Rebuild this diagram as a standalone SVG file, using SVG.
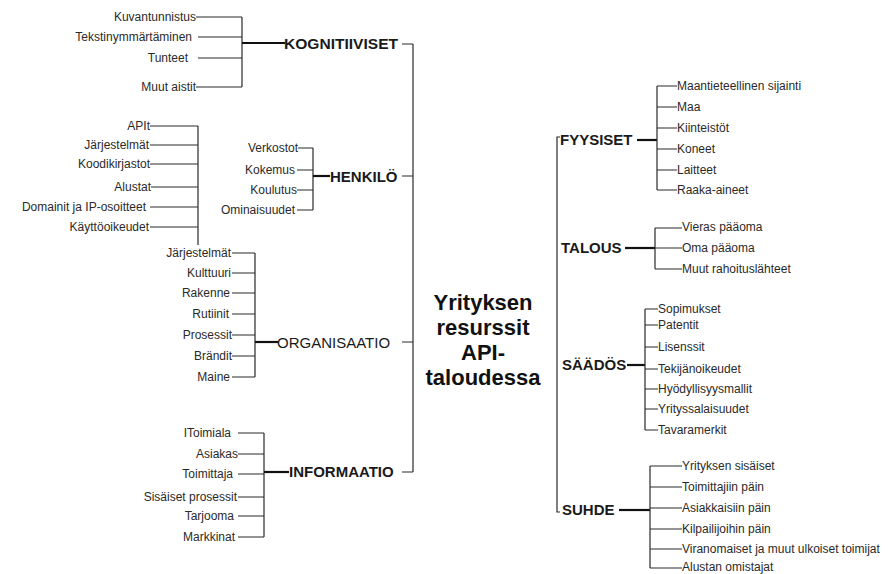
<svg xmlns="http://www.w3.org/2000/svg" width="893" height="574" viewBox="0 0 893 574">
<style>
.leaf{font-family:"Liberation Sans",Arial,sans-serif;font-size:12px;fill:#2a2a2a}
.end{text-anchor:end}
.cat{font-family:"Liberation Sans",Arial,sans-serif;font-size:15px;font-weight:bold;fill:#1a1a1a}
.catr{font-family:"Liberation Sans",Arial,sans-serif;font-size:15px;fill:#1a1a1a}
.title{font-family:"Liberation Sans",Arial,sans-serif;font-size:22px;font-weight:bold;fill:#111;text-anchor:middle}
.ln{stroke:#2a2a2a;stroke-width:1.2;fill:none}
.bl{stroke:#111;stroke-width:2.2;fill:none}
</style>
<rect width="893" height="574" fill="#fff"/>
<g id="connectors">
  <path class="ln" d="M413 44V472"/>
  <path class="ln" d="M402 44H413M402 176H413M402 342H413M402 472H413"/>
  <path class="ln" d="M196 17H242M198 37H242M198 58H242M196 87H242M242 17V87"/>
  <path class="bl" d="M242 43H285"/>
  <path class="ln" d="M298 148H313M297 170H313M297 190H313M297 210H313M313 148V210"/>
  <path class="bl" d="M313 176H330"/>
  <path class="ln" d="M150 126H198M150 145H198M150 164H198M151 187H198M150 207H198M150 227H198M198 126V245"/>
  <path class="ln" d="M232 253H255M232 273H255M232 293H255M232 314H255M232 335H255M232 356H255M232 377H255M255 253V377"/>
  <path class="bl" d="M255 342H278"/>
  <path class="ln" d="M238 433H264M238 454H264M238 474H264M238 497H264M238 516H264M238 537H264M264 433V537"/>
  <path class="bl" d="M264 472H289"/>
  <path class="ln" d="M560 137H557V512H560"/>
  <path class="bl" d="M637 140H657"/>
  <path class="ln" d="M657 86V190M657 86H677M657 107H677M657 128H677M657 149H677M657 170H677M657 190H677"/>
  <path class="bl" d="M625 248H655"/>
  <path class="ln" d="M655 228V269M655 228H682M655 248H682M655 269H682"/>
  <path class="bl" d="M627 365H645"/>
  <path class="ln" d="M645 309V430M645 309H658M645 325H658M645 347H658M645 369H658M645 389H658M645 409H658M645 430H658"/>
  <path class="bl" d="M619 510H650"/>
  <path class="ln" d="M650 466V568M650 466H682M650 487H682M650 508H682M650 529H682M650 549H682M650 568H682"/>
</g>
<g id="center">
  <text class="title" x="483" y="310">Yrityksen</text>
  <text class="title" x="483" y="335">resurssit</text>
  <text class="title" x="483" y="360">API-</text>
  <text class="title" x="483" y="385">taloudessa</text>
</g>
<g id="kognitiiviset">
  <text class="cat" x="284" y="49" textLength="114" lengthAdjust="spacingAndGlyphs">KOGNITIIVISET</text>
  <text class="leaf end" x="196" y="21">Kuvantunnistus</text>
  <text class="leaf end" x="192" y="41">Tekstinymmärtäminen</text>
  <text class="leaf end" x="188" y="62">Tunteet</text>
  <text class="leaf end" x="196" y="91">Muut aistit</text>
</g>
<g id="henkilo">
  <text class="cat" x="330" y="182">HENKILÖ</text>
  <text class="leaf end" x="298" y="152">Verkostot</text>
  <text class="leaf end" x="295" y="174">Kokemus</text>
  <text class="leaf end" x="297" y="194">Koulutus</text>
  <text class="leaf end" x="295" y="214">Ominaisuudet</text>
</g>
<g id="api-group">
  <text class="leaf end" x="150" y="130">APIt</text>
  <text class="leaf end" x="149" y="149">Järjestelmät</text>
  <text class="leaf end" x="150" y="168">Koodikirjastot</text>
  <text class="leaf end" x="151" y="191">Alustat</text>
  <text class="leaf end" x="146" y="211">Domainit  ja IP-osoitteet</text>
  <text class="leaf end" x="149" y="231">Käyttöoikeudet</text>
</g>
<g id="organisaatio">
  <text class="catr" x="277" y="348">ORGANISAATIO</text>
  <text class="leaf end" x="231" y="257">Järjestelmät</text>
  <text class="leaf end" x="231" y="277">Kulttuuri</text>
  <text class="leaf end" x="230" y="297">Rakenne</text>
  <text class="leaf end" x="229" y="318">Rutiinit</text>
  <text class="leaf end" x="232" y="339">Prosessit</text>
  <text class="leaf end" x="232" y="360">Brändit</text>
  <text class="leaf end" x="230" y="381">Maine</text>
</g>
<g id="informaatio">
  <text class="cat" x="289" y="477">INFORMAATIO</text>
  <text class="leaf end" x="231" y="437">IToimiala</text>
  <text class="leaf end" x="238" y="458">Asiakas</text>
  <text class="leaf end" x="233" y="478">Toimittaja</text>
  <text class="leaf end" x="237" y="501">Sisäiset prosessit</text>
  <text class="leaf end" x="234" y="520">Tarjooma</text>
  <text class="leaf end" x="235" y="541">Markkinat</text>
</g>
<g id="fyysiset">
  <text class="cat" x="560" y="145">FYYSISET</text>
  <text class="leaf" x="677" y="90">Maantieteellinen  sijainti</text>
  <text class="leaf" x="677" y="111">Maa</text>
  <text class="leaf" x="677" y="132">Kiinteistöt</text>
  <text class="leaf" x="677" y="153">Koneet</text>
  <text class="leaf" x="677" y="174">Laitteet</text>
  <text class="leaf" x="677" y="194">Raaka-aineet</text>
</g>
<g id="talous">
  <text class="cat" x="561" y="253">TALOUS</text>
  <text class="leaf" x="682" y="231">Vieras pääoma</text>
  <text class="leaf" x="682" y="252">Oma  pääoma</text>
  <text class="leaf" x="682" y="273">Muut rahoituslähteet</text>
</g>
<g id="saados">
  <text class="cat" x="562" y="370">SÄÄDÖS</text>
  <text class="leaf" x="658" y="313">Sopimukset</text>
  <text class="leaf" x="658" y="329">Patentit</text>
  <text class="leaf" x="658" y="351">Lisenssit</text>
  <text class="leaf" x="658" y="373">Tekijänoikeudet</text>
  <text class="leaf" x="658" y="393">Hyödyllisyysmallit</text>
  <text class="leaf" x="658" y="413">Yrityssalaisuudet</text>
  <text class="leaf" x="658" y="434">Tavaramerkit</text>
</g>
<g id="suhde">
  <text class="cat" x="562" y="515">SUHDE</text>
  <text class="leaf" x="682" y="470">Yrityksen sisäiset</text>
  <text class="leaf" x="682" y="491">Toimittajiin  päin</text>
  <text class="leaf" x="682" y="512">Asiakkaisiin päin</text>
  <text class="leaf" x="682" y="533">Kilpailijoihin  päin</text>
  <text class="leaf" x="682" y="553">Viranomaiset ja  muut  ulkoiset toimijat</text>
  <text class="leaf" x="682" y="571">Alustan omistajat</text>
</g>
</svg>
